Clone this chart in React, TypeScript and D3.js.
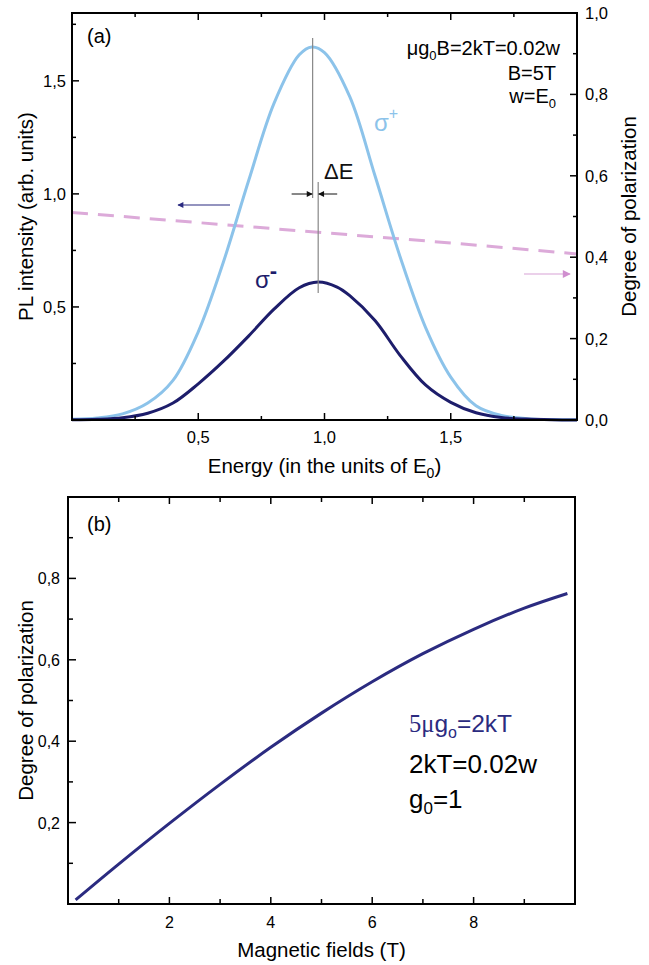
import React from 'react'
import * as d3 from 'd3'

// panel (a): PL spectra for both circular polarizations
const energyPlus = [0, 0.1, 0.2, 0.3, 0.4, 0.5, 0.6, 0.7, 0.8, 0.9, 0.95, 1.0, 1.1, 1.2, 1.3, 1.4, 1.5, 1.6, 1.7, 1.8, 1.9, 2.0]
const sigmaPlus = [0.003, 0.009, 0.027, 0.075, 0.175, 0.39, 0.7, 1.06, 1.4, 1.615, 1.65, 1.625, 1.43, 1.08, 0.72, 0.41, 0.19, 0.063, 0.02, 0.006, 0.002, 0.001]
const energyMinus = [0, 0.1, 0.2, 0.3, 0.4, 0.5, 0.6, 0.7, 0.8, 0.9, 0.975, 1.05, 1.1, 1.2, 1.3, 1.4, 1.5, 1.6, 1.7, 1.8, 1.9, 2.0]
const sigmaMinus = [0.001, 0.003, 0.01, 0.03, 0.075, 0.16, 0.26, 0.372, 0.49, 0.585, 0.61, 0.588, 0.55, 0.44, 0.285, 0.155, 0.078, 0.032, 0.011, 0.004, 0.001, 0]
const energyPol = [0, 0.5, 1.0, 1.5, 2.0]
const polarizationA = [0.51, 0.485, 0.46, 0.435, 0.408]
const peakPlus = 0.953
const peakMinus = 0.975

// panel (b): polarization vs field
const field = [0.15, 1, 2, 3, 4, 5, 6, 7, 8, 9, 9.85]
const polarizationB = [0.01, 0.098, 0.198, 0.294, 0.385, 0.469, 0.546, 0.615, 0.675, 0.727, 0.763]

const energyTicks = [0.5, 1.0, 1.5]
const energyMinor = [0.25, 0.75, 1.25, 1.75]
const plTicks = [0.5, 1.0, 1.5]
const plMinor = [0.25, 0.75, 1.25, 1.75]
const polTicksA = [0, 0.2, 0.4, 0.6, 0.8, 1.0]
const polMinorA = [0.1, 0.3, 0.5, 0.7, 0.9]
const fieldTicks = [2, 4, 6, 8]
const fieldMinor = [1, 3, 5, 7, 9]
const polTicksB = [0.2, 0.4, 0.6, 0.8]
const polMinorB = [0.1, 0.3, 0.5, 0.7, 0.9]

const FONT = 'Liberation Sans, Arial, sans-serif'
const LIGHT = '#8cc3ea'
const NAVY = '#1d1d6b'
const NAVY_B = '#2b2b80'
const PINK = '#dcaad9'

const comma = (v: number) => d3.format('.1f')(v).replace('.', ',')

export default function App() {
  // panel a
  const ax = d3.scaleLinear().domain([0, 2]).range([72, 577])
  const ay = d3.scaleLinear().domain([0, 1.8]).range([420, 13])
  const ay2 = d3.scaleLinear().domain([0, 1]).range([420, 13])

  // panel b
  const bx = d3.scaleLinear().domain([0, 10]).range([68, 575])
  const by = d3.scaleLinear().domain([0, 1]).range([904, 497])

  const plusLine = d3
    .line<number>()
    .x((d, i) => ax(energyPlus[i]))
    .y(d => ay(d))
    .curve(d3.curveCatmullRom)
  const minusLine = d3
    .line<number>()
    .x((d, i) => ax(energyMinus[i]))
    .y(d => ay(d))
    .curve(d3.curveCatmullRom)
  const polLineA = d3
    .line<number>()
    .x((d, i) => ax(energyPol[i]))
    .y(d => ay2(d))
  const polLineB = d3
    .line<number>()
    .x((d, i) => bx(field[i]))
    .y(d => by(d))
    .curve(d3.curveCatmullRom)

  const [aL, aR] = ax.range()
  const [aB, aT] = ay.range()
  const [bL, bR] = bx.range()
  const [bB, bT] = by.range()

  return (
    <svg
      width={649}
      height={965}
      style={{position: 'absolute', left: 0, top: 0, background: '#fff'}}
      fontFamily={FONT}
    >
      <defs>
        <marker id="headNavy" viewBox="0 0 10 10" refX="9" refY="5" markerWidth="8" markerHeight="6" orient="auto" markerUnits="userSpaceOnUse">
          <path d="M0,0 L10,5 L0,10 z" fill={NAVY_B} />
        </marker>
        <marker id="headPink" viewBox="0 0 10 10" refX="9" refY="5" markerWidth="12" markerHeight="8" orient="auto" markerUnits="userSpaceOnUse">
          <path d="M0,0 L10,5 L0,10 z" fill="#d08fcf" />
        </marker>
        <marker id="headBlack" viewBox="0 0 10 10" refX="9" refY="5" markerWidth="8" markerHeight="6" orient="auto" markerUnits="userSpaceOnUse">
          <path d="M0,0 L10,5 L0,10 z" fill="#111" />
        </marker>
      </defs>

      {/* ---------- panel (a) ---------- */}
      <path d={polLineA(polarizationA) || ''} fill="none" stroke={PINK} strokeWidth={3} strokeDasharray="16 10" />
      <path d={plusLine(sigmaPlus) || ''} fill="none" stroke={LIGHT} strokeWidth={3} />
      <path d={minusLine(sigmaMinus) || ''} fill="none" stroke={NAVY} strokeWidth={3} />

      {/* peak markers and splitting */}
      <line x1={ax(peakPlus)} x2={ax(peakPlus)} y1={38} y2={198} stroke="#888" strokeWidth={1.2} />
      <line x1={ax(peakMinus)} x2={ax(peakMinus)} y1={182} y2={293} stroke="#888" strokeWidth={1.2} />
      <line x1={ax(peakPlus) - 21} x2={ax(peakPlus) - 0.5} y1={194} y2={194} stroke="#111" strokeWidth={1} markerEnd="url(#headBlack)" />
      <line x1={ax(peakMinus) + 19} x2={ax(peakMinus) + 0.5} y1={194} y2={194} stroke="#111" strokeWidth={1} markerEnd="url(#headBlack)" />
      <text x={324} y={179} fontSize={22} fill="#111">ΔE</text>

      <line x1={230} x2={178} y1={205} y2={205} stroke={NAVY_B} strokeWidth={1.2} markerEnd="url(#headNavy)" />
      <line x1={524} x2={570} y1={274} y2={274} stroke="#d8a2d6" strokeWidth={1.2} markerEnd="url(#headPink)" />

      <rect x={aL} y={aT} width={aR - aL} height={aB - aT} fill="none" stroke="#000" strokeWidth={2} />

      {energyTicks.map(t => (
        <g key={'ex' + t}>
          <line x1={ax(t)} x2={ax(t)} y1={aB} y2={aB - 7} stroke="#000" strokeWidth={1.5} />
          <line x1={ax(t)} x2={ax(t)} y1={aT} y2={aT + 7} stroke="#000" strokeWidth={1.5} />
          <text x={ax(t)} y={aB + 23} fontSize={16.5} textAnchor="middle">{comma(t)}</text>
        </g>
      ))}
      {energyMinor.map(t => (
        <g key={'exm' + t}>
          <line x1={ax(t)} x2={ax(t)} y1={aB} y2={aB - 4} stroke="#000" strokeWidth={1.5} />
          <line x1={ax(t)} x2={ax(t)} y1={aT} y2={aT + 4} stroke="#000" strokeWidth={1.5} />
        </g>
      ))}
      {plTicks.map(t => (
        <g key={'pl' + t}>
          <line x1={aL} x2={aL + 7} y1={ay(t)} y2={ay(t)} stroke="#000" strokeWidth={1.5} />
          <text x={aL - 6} y={ay(t) + 6} fontSize={16.5} textAnchor="end">{comma(t)}</text>
        </g>
      ))}
      {plMinor.map(t => (
        <line key={'plm' + t} x1={aL} x2={aL + 4} y1={ay(t)} y2={ay(t)} stroke="#000" strokeWidth={1.5} />
      ))}
      {polTicksA.map(t => (
        <g key={'pa' + t}>
          <line x1={aR} x2={aR - 7} y1={ay2(t)} y2={ay2(t)} stroke="#000" strokeWidth={1.5} />
          <text x={aR + 8} y={ay2(t) + 6} fontSize={16.5}>{comma(t)}</text>
        </g>
      ))}
      {polMinorA.map(t => (
        <line key={'pam' + t} x1={aR} x2={aR - 4} y1={ay2(t)} y2={ay2(t)} stroke="#000" strokeWidth={1.5} />
      ))}

      <text x={(aL + aR) / 2} y={473} fontSize={20.5} textAnchor="middle">
        Energy (in the units of E<tspan fontSize={14} dy={5}>0</tspan><tspan dy={-5}>)</tspan>
      </text>
      <text transform={`translate(33,${(aT + aB) / 2}) rotate(-90)`} fontSize={20.5} textAnchor="middle">
        PL intensity (arb. units)
      </text>
      <text transform={`translate(636,${(aT + aB) / 2}) rotate(-90)`} fontSize={20.5} textAnchor="middle">
        Degree of polarization
      </text>

      <text x={87} y={43} fontSize={20}>(a)</text>
      <text x={560} y={55} fontSize={20} textAnchor="end">
        μg<tspan fontSize={13} dy={5}>0</tspan><tspan dy={-5}>B=2kT=0.02w</tspan>
      </text>
      <text x={556} y={80} fontSize={20} textAnchor="end">B=5T</text>
      <text x={556} y={103} fontSize={20} textAnchor="end">
        w=E<tspan fontSize={13} dy={5}>0</tspan>
      </text>

      <text x={374} y={131} fontSize={24} fill={LIGHT}>
        σ<tspan fontSize={16} dy={-12}>+</tspan>
      </text>
      <text x={255} y={288} fontSize={24} fill={NAVY}>
        σ<tspan fontSize={22} dy={-10} fontWeight="bold">-</tspan>
      </text>

      {/* ---------- panel (b) ---------- */}
      <path d={polLineB(polarizationB) || ''} fill="none" stroke={NAVY_B} strokeWidth={3} />
      <rect x={bL} y={bT} width={bR - bL} height={bB - bT} fill="none" stroke="#000" strokeWidth={2} />

      {fieldTicks.map(t => (
        <g key={'bx' + t}>
          <line x1={bx(t)} x2={bx(t)} y1={bB} y2={bB - 7} stroke="#000" strokeWidth={1.5} />
          <line x1={bx(t)} x2={bx(t)} y1={bT} y2={bT + 7} stroke="#000" strokeWidth={1.5} />
          <text x={bx(t)} y={bB + 24} fontSize={16} textAnchor="middle">{t}</text>
        </g>
      ))}
      {fieldMinor.map(t => (
        <g key={'bxm' + t}>
          <line x1={bx(t)} x2={bx(t)} y1={bB} y2={bB - 5} stroke="#000" strokeWidth={1.5} />
          <line x1={bx(t)} x2={bx(t)} y1={bT} y2={bT + 5} stroke="#000" strokeWidth={1.5} />
        </g>
      ))}
      {polTicksB.map(t => (
        <g key={'by' + t}>
          <line x1={bL} x2={bL + 8} y1={by(t)} y2={by(t)} stroke="#000" strokeWidth={1.5} />
          <text x={bL - 8} y={by(t) + 6} fontSize={16} textAnchor="end">{comma(t)}</text>
        </g>
      ))}
      {polMinorB.map(t => (
        <line key={'bym' + t} x1={bL} x2={bL + 5} y1={by(t)} y2={by(t)} stroke="#000" strokeWidth={1.5} />
      ))}

      <text x={(bL + bR) / 2} y={957} fontSize={20.5} textAnchor="middle">Magnetic fields (T)</text>
      <text transform={`translate(33,${(bT + bB) / 2}) rotate(-90)`} fontSize={20.5} textAnchor="middle">
        Degree of polarization
      </text>

      <text x={87} y={531} fontSize={20}>(b)</text>
      <text x={409} y={732} fontSize={24.5} fill={NAVY_B}>
        <tspan fontFamily="Liberation Serif, Times New Roman, serif">5μ</tspan>g<tspan fontSize={16} dy={6}>o</tspan><tspan dy={-6}>=2kT</tspan>
      </text>
      <text x={409} y={773} fontSize={26}>2kT=0.02w</text>
      <text x={409} y={808} fontSize={26}>
        g<tspan fontSize={17} dy={6}>0</tspan><tspan dy={-6}>=1</tspan>
      </text>
    </svg>
  )
}
